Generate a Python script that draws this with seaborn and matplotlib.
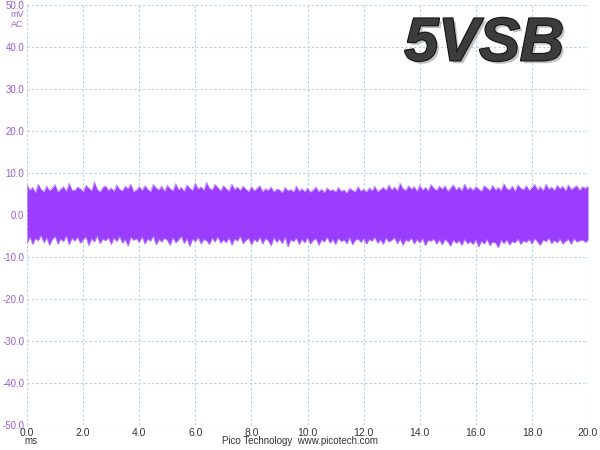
import numpy as np
import pandas as pd
import matplotlib
matplotlib.use("Agg")
import matplotlib.pyplot as plt
import matplotlib.patheffects as pe
import seaborn as sns

# envelope of the noise trace, every 0.1 ms (mV)
upper_mv = [7.2, 6.0, 6.6, 5.4, 7.4, 6.1, 5.6, 6.9, 5.8, 6.4,
            7.3, 5.5, 6.2, 6.8, 5.7, 7.6, 6.0, 5.9, 6.7, 6.3,
            5.6, 7.1, 6.4, 5.8, 7.9, 6.2, 5.5, 6.6, 7.0, 5.9,
            6.5, 5.7, 7.2, 6.1, 5.8, 6.9, 6.3, 7.4, 5.6, 6.0,
            6.8, 5.9, 7.0, 6.2, 5.6, 7.3, 6.5, 6.0, 6.9, 5.7,
            7.1, 6.3, 5.8, 7.5, 6.1, 6.6, 5.7, 7.2, 6.4, 5.9,
            7.6, 6.2, 6.8, 5.9, 7.8, 6.4, 6.0, 7.3, 6.6, 5.8,
            7.0, 6.3, 5.7, 7.4, 6.1, 6.7, 5.9, 6.9, 6.2, 5.6,
            6.8, 5.8, 6.4, 7.0, 5.6, 6.3, 5.9, 6.7, 5.5, 6.2,
            6.0, 5.4, 6.6, 5.8, 6.1, 5.5, 6.9, 5.7, 6.3, 5.6,
            6.4, 5.5, 6.0, 6.7, 5.6, 6.2, 5.4, 6.5, 5.8, 6.1,
            5.5, 6.6, 5.7, 6.0, 5.3, 6.4, 5.9, 5.6, 6.8, 5.7,
            6.2, 5.5, 6.5, 5.8, 6.9, 5.6, 6.1, 6.6, 5.9, 7.2,
            6.0, 6.7, 5.8, 7.6, 6.3, 5.9, 7.0, 6.2, 6.8, 5.7,
            7.1, 6.0, 6.6, 5.8, 7.3, 6.4, 5.9, 6.9, 6.2, 7.0,
            5.7, 6.5, 7.2, 6.0, 6.7, 5.8, 7.4, 6.1, 6.6, 5.9,
            6.8, 6.2, 5.7, 7.0, 6.4, 5.9, 7.1, 6.0, 6.6, 5.8,
            7.5, 6.3, 6.0, 6.9, 5.7, 7.2, 6.4, 6.1, 7.0, 5.9,
            6.6, 7.3, 6.0, 6.8, 5.8, 7.4, 6.2, 6.7, 5.9, 7.1,
            6.3, 6.9, 5.8, 7.2, 6.1, 6.6, 7.0, 5.9, 6.8, 6.4, 6.9]
lower_mv = [-6.8, -5.2, -7.0, -5.6, -6.1, -4.9, -6.6, -5.4, -7.2, -5.8,
            -5.1, -6.9, -5.7, -6.3, -5.0, -7.1, -5.5, -6.2, -5.3, -6.7,
            -5.9, -5.2, -7.3, -5.6, -6.4, -5.0, -6.8, -5.7, -6.1, -5.4,
            -7.0, -5.5, -6.3, -5.1, -6.7, -5.8, -7.4, -5.3, -6.0, -5.6,
            -6.5, -5.2, -6.9, -5.7, -6.2, -5.0, -7.1, -5.8, -6.4, -5.5,
            -6.0, -7.2, -5.4, -6.6, -5.9, -5.1, -6.8, -5.6, -7.5, -5.7,
            -6.3, -5.3, -6.9, -5.8, -6.1, -7.0, -5.5, -6.4, -5.2, -6.7,
            -5.9, -6.6, -5.4, -7.2, -5.7, -6.2, -5.1, -6.8, -6.0, -5.5,
            -7.1, -5.8, -6.4, -5.3, -6.9, -5.6, -6.1, -7.3, -5.4, -6.5,
            -5.7, -6.8, -5.2, -7.6, -5.9, -6.3, -5.5, -7.0, -5.8, -6.6,
            -5.4, -6.9, -6.0, -5.6, -7.2, -5.9, -6.4, -5.3, -6.7, -5.8,
            -7.0, -5.5, -6.3, -5.9, -6.8, -5.4, -7.1, -6.0, -5.7, -6.5,
            -5.6, -6.9, -5.8, -6.2, -5.3, -6.7, -5.9, -7.0, -5.5, -6.4,
            -6.0, -5.4, -6.8, -5.7, -7.2, -5.9, -6.3, -5.5, -6.9, -5.8,
            -6.6, -5.6, -7.3, -6.0, -6.2, -5.7, -6.9, -5.9, -7.1, -5.8,
            -6.4, -7.4, -5.9, -6.7, -6.1, -7.2, -5.8, -6.8, -6.3, -7.0,
            -5.9, -7.6, -6.2, -6.9, -5.8, -7.3, -6.4, -6.6, -7.8, -6.0,
            -6.8, -5.9, -7.1, -6.3, -6.6, -5.7, -7.0, -6.1, -6.5, -5.8,
            -6.9, -5.6, -6.4, -7.2, -5.9, -6.3, -5.5, -6.8, -6.0, -6.6,
            -5.7, -6.9, -6.2, -5.8, -7.0, -5.6, -6.4, -6.1, -5.9, -6.5, -6.0]
time_ms = np.linspace(0, 20, len(upper_mv))

x_ticks = [0, 2, 4, 6, 8, 10, 12, 14, 16, 18, 20]
y_ticks = [-50, -40, -30, -20, -10, 0, 10, 20, 30, 40, 50]
channel_label = "5VSB"

df = pd.DataFrame({"t": time_ms, "hi": upper_mv, "lo": lower_mv})

sns.set_style("white")
plt.rcParams['font.family'] = ['Liberation Sans', 'DejaVu Sans']

trace = "#9B3DFF"
edge = "#B47CF5"
grid_c = "#B3D2DD"

fig = plt.figure(figsize=(6, 4.5), dpi=100)
ax = fig.add_axes([0.045, 0.0556, 0.935, 0.933])

# solid body of the trace, then the ragged min/max edges
ax.fill_between(df["t"], df["lo"], df["hi"], color=trace, lw=0)
sns.lineplot(data=df, x="t", y="hi", ax=ax, color=edge, lw=0.5)
sns.lineplot(data=df, x="t", y="lo", ax=ax, color=edge, lw=0.5)

ax.set_xlim(0, 20)
ax.set_ylim(-50, 50)
ax.set_xticks(x_ticks)
ax.set_yticks(y_ticks)
ax.set_xticklabels([f"{v:.1f}" for v in x_ticks], fontsize=7.5, color="#333333")
ax.set_yticklabels([f"{v:.1f}" for v in y_ticks], fontsize=7, color="#9A5FD0")
ax.tick_params(length=0, pad=2)
ax.set_xlabel("")
ax.set_ylabel("")
for s in ax.spines.values():
    s.set_visible(False)
ax.grid(True, color=grid_c, linestyle=(0, (2, 2)), lw=0.8)
ax.set_axisbelow(True)

fig.text(0.028, 0.967, "mV", fontsize=6.5, color="#9A5FD0", ha="center", va="center")
fig.text(0.028, 0.946, "AC", fontsize=6.5, color="#9A5FD0", ha="center", va="center")
fig.text(0.051, 0.008, "ms", fontsize=7, color="#333333", ha="center", va="bottom")
fig.text(0.50, 0.008, "Pico Technology  www.picotech.com", fontsize=7,
         color="#333333", ha="center", va="bottom")

ax.text(0.815, 0.973, channel_label, transform=ax.transAxes, fontsize=44,
        fontweight="bold", fontstyle="italic", color="#3C3C3C",
        ha="center", va="top",
        path_effects=[pe.withSimplePatchShadow(offset=(2, -2), shadow_rgbFace="#999999", alpha=0.6),
                      pe.Stroke(linewidth=1.5, foreground="#111111"), pe.Normal()])

fig.savefig("out.png", dpi=100)
